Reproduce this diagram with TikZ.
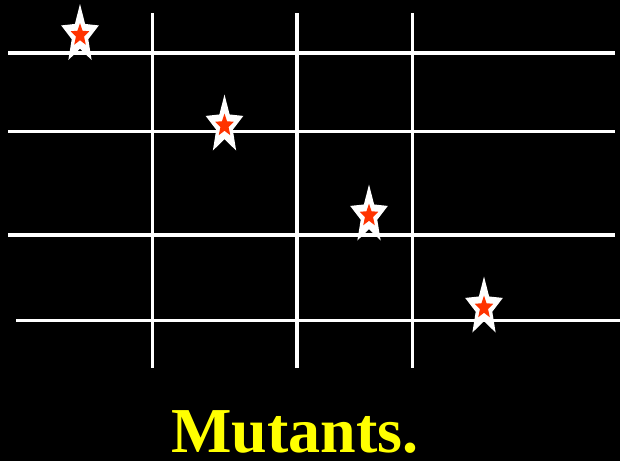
\documentclass[tikz,border=0pt]{standalone}
\usepackage{fontspec}
\setmainfont{Liberation Serif}
\usetikzlibrary{calc}
\definecolor{starred}{RGB}{255,51,0}
\definecolor{ttlyellow}{RGB}{255,255,0}
\tikzset{
  gridline/.style={white, line width=3.9pt},
  title text/.style={text=ttlyellow, font=\fontsize{64}{66}\selectfont\bfseries, anchor=base, inner sep=0pt}
}
% #1 cx, #2 cy, #3 rx, #4 ry, #5 inner ratio, #6 colour
\newcommand\mystarshape[6]{%
  \fill[#6] ($(#1,#2)+(-90:#3 and #4)$)
    \foreach \k in {0,...,4}{
      -- ($(#1,#2)+({-54+72*\k}:{#3*#5} and {#4*#5})$)
      -- ($(#1,#2)+({-18+72*\k}:#3 and #4)$)
    } -- cycle;}
\newcommand\mutstar[2]{%
  \mystarshape{#1}{#2}{19.8}{31}{0.44}{white}
  \mystarshape{#1}{#2}{9.8}{12}{0.44}{starred}}
\begin{document}
\begin{tikzpicture}[x=1pt,y=-1pt]
  \fill[black] (0,0) rectangle (620,461);
  \useasboundingbox (0,0) rectangle (620,461);
  % horizontal lines
  \coordinate (h1a) at (8,53);     \coordinate (h1b) at (615,53);
  \coordinate (h2a) at (8,131.5);  \coordinate (h2b) at (615,131.5);
  \coordinate (h3a) at (8,235);    \coordinate (h3b) at (615,235);
  \coordinate (h4a) at (16,320.5); \coordinate (h4b) at (620,320.5);
  \draw[gridline] (h1a) -- (h1b);
  \draw[gridline] (h2a) -- (h2b);
  \draw[gridline] (h3a) -- (h3b);
  \draw[gridline] (h4a) -- (h4b);
  % vertical lines
  \coordinate (v1a) at (152.5,13); \coordinate (v1b) at (152.5,368);
  \coordinate (v2a) at (297,13);   \coordinate (v2b) at (297,368);
  \coordinate (v3a) at (412.5,13); \coordinate (v3b) at (412.5,368);
  \draw[gridline] (v1a) -- (v1b);
  \draw[gridline] (v2a) -- (v2b);
  \draw[gridline] (v3a) -- (v3b);
  % stars
  \mutstar{80}{35}
  \mutstar{224.5}{125.5}
  \mutstar{369}{215.5}
  \mutstar{484}{307.5}
  % title
  \node[title text] (title) at (295,452) {Mutants.};
\end{tikzpicture}
\end{document}
